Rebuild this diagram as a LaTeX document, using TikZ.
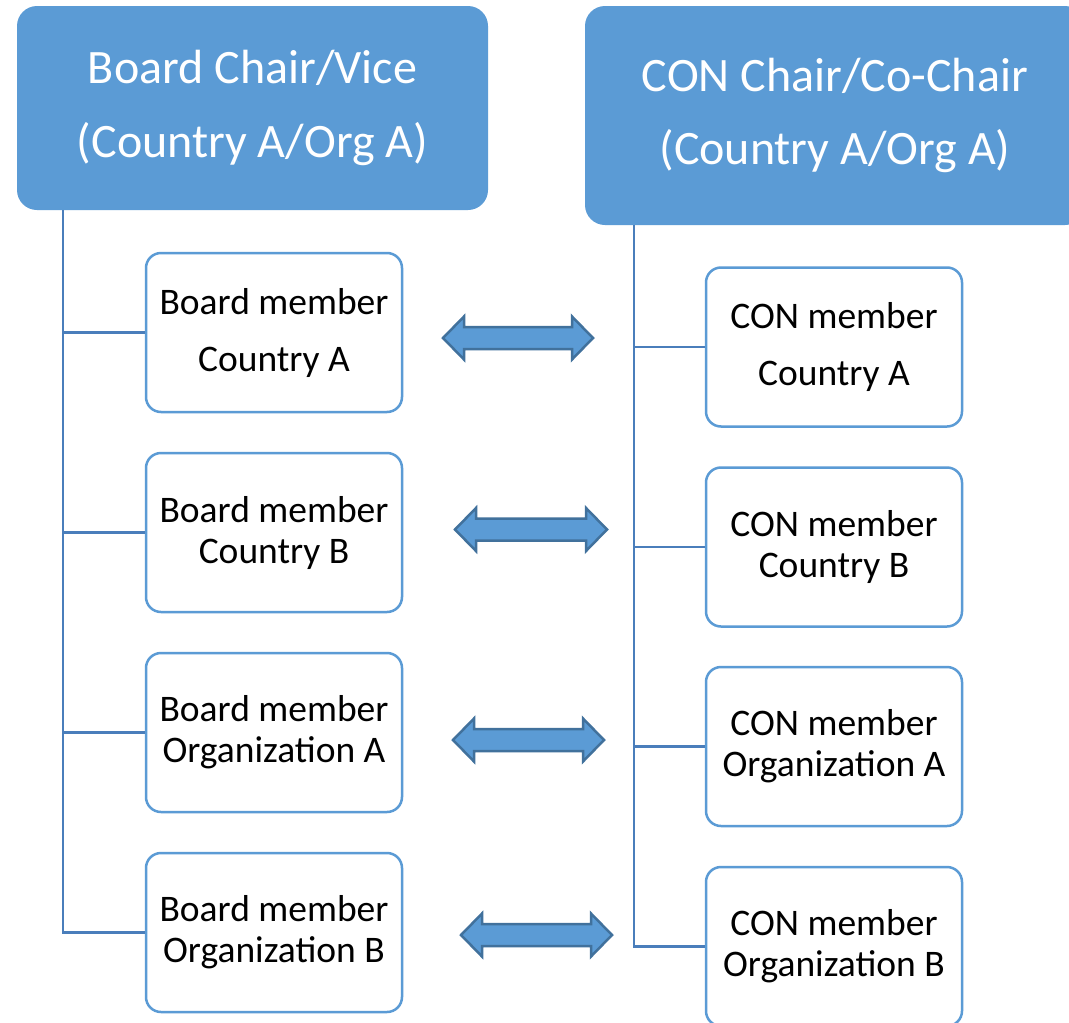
\documentclass[tikz,border=0pt]{standalone}
\usepackage{fontspec}
\setmainfont{Carlito}
\definecolor{accent}{HTML}{5B9BD5}
\definecolor{dark}{HTML}{41719C}
\definecolor{treeline}{HTML}{4A7EBB}
\tikzset{
  header/.style={fill=accent, draw=none, rounded corners=20pt, inner sep=0pt,
    text=white, align=center, font=\fontsize{48}{73.5}\selectfont},
  member/.style={draw=accent, line width=2.5pt, fill=white, rounded corners=15pt,
    minimum width=256pt, minimum height=159pt, inner sep=0pt, align=center,
    font=\fontsize{37.5}{41}\selectfont},
  wide/.style={font=\fontsize{37.5}{57}\selectfont},
  tree/.style={draw=treeline, line width=2.5pt},
  dbl/.style={fill=accent, draw=dark, line width=2.5pt, line join=miter}
}
\newcommand{\dblarrow}[3]{% left x, right x, center y
  \path[dbl] (#1,#3) -- ++(21,-21.5) -- ++(0,10.5) -- (#2-21,#3-11) -- ++(0,-10.5)
    -- (#2,#3) -- (#2-21,#3+21.5) -- ++(0,-10.5) -- (#1+21,#3+11) -- ++(0,10.5) -- cycle;
}
\begin{document}
\begin{tikzpicture}[x=1pt,y=-1pt]
\useasboundingbox (0,0) rectangle (1069,1023);
\clip (0,0) rectangle (1069,1023);
\fill[white] (0,0) rectangle (1069,1023);
% headers
\node[header, minimum width=471pt, minimum height=204pt] (lh) at (252.5,108) {Board Chair/Vice\\(Country A/Org A)};
\node[header, minimum width=500pt, minimum height=219pt] (rh) at (835,115.5) {CON Chair/Co-Chair\\(Country A/Org A)};
% tree anchors
\coordinate (lt) at (63,210);
\coordinate (rt) at (634,225);
% left members
\node[member, wide] (b1) at (274,332.5) {Board member\\Country A};
\node[member] (b2) at (274,532.5) {Board member\\Country B};
\node[member] (b3) at (274,732.5) {Board member\\Organization A};
\node[member] (b4) at (274,932.5) {Board member\\Organization B};
% right members
\node[member, wide] (c1) at (834,347) {CON member\\Country A};
\node[member] (c2) at (834,547) {CON member\\Country B};
\node[member] (c3) at (834,746.5) {CON member\\Organization A};
\node[member] (c4) at (834,946.5) {CON member\\Organization B};
% tree lines
\draw[tree] (lt) |- (b4.west);
\draw[tree] (lt |- b1.west) -- (b1.west);
\draw[tree] (lt |- b2.west) -- (b2.west);
\draw[tree] (lt |- b3.west) -- (b3.west);
\draw[tree] (rt) |- (c4.west);
\draw[tree] (rt |- c1.west) -- (c1.west);
\draw[tree] (rt |- c2.west) -- (c2.west);
\draw[tree] (rt |- c3.west) -- (c3.west);
% double arrows
\dblarrow{443}{593}{338}
\dblarrow{455}{607}{529.5}
\dblarrow{453}{604}{740}
\dblarrow{461}{612}{935}
\end{tikzpicture}
\end{document}
